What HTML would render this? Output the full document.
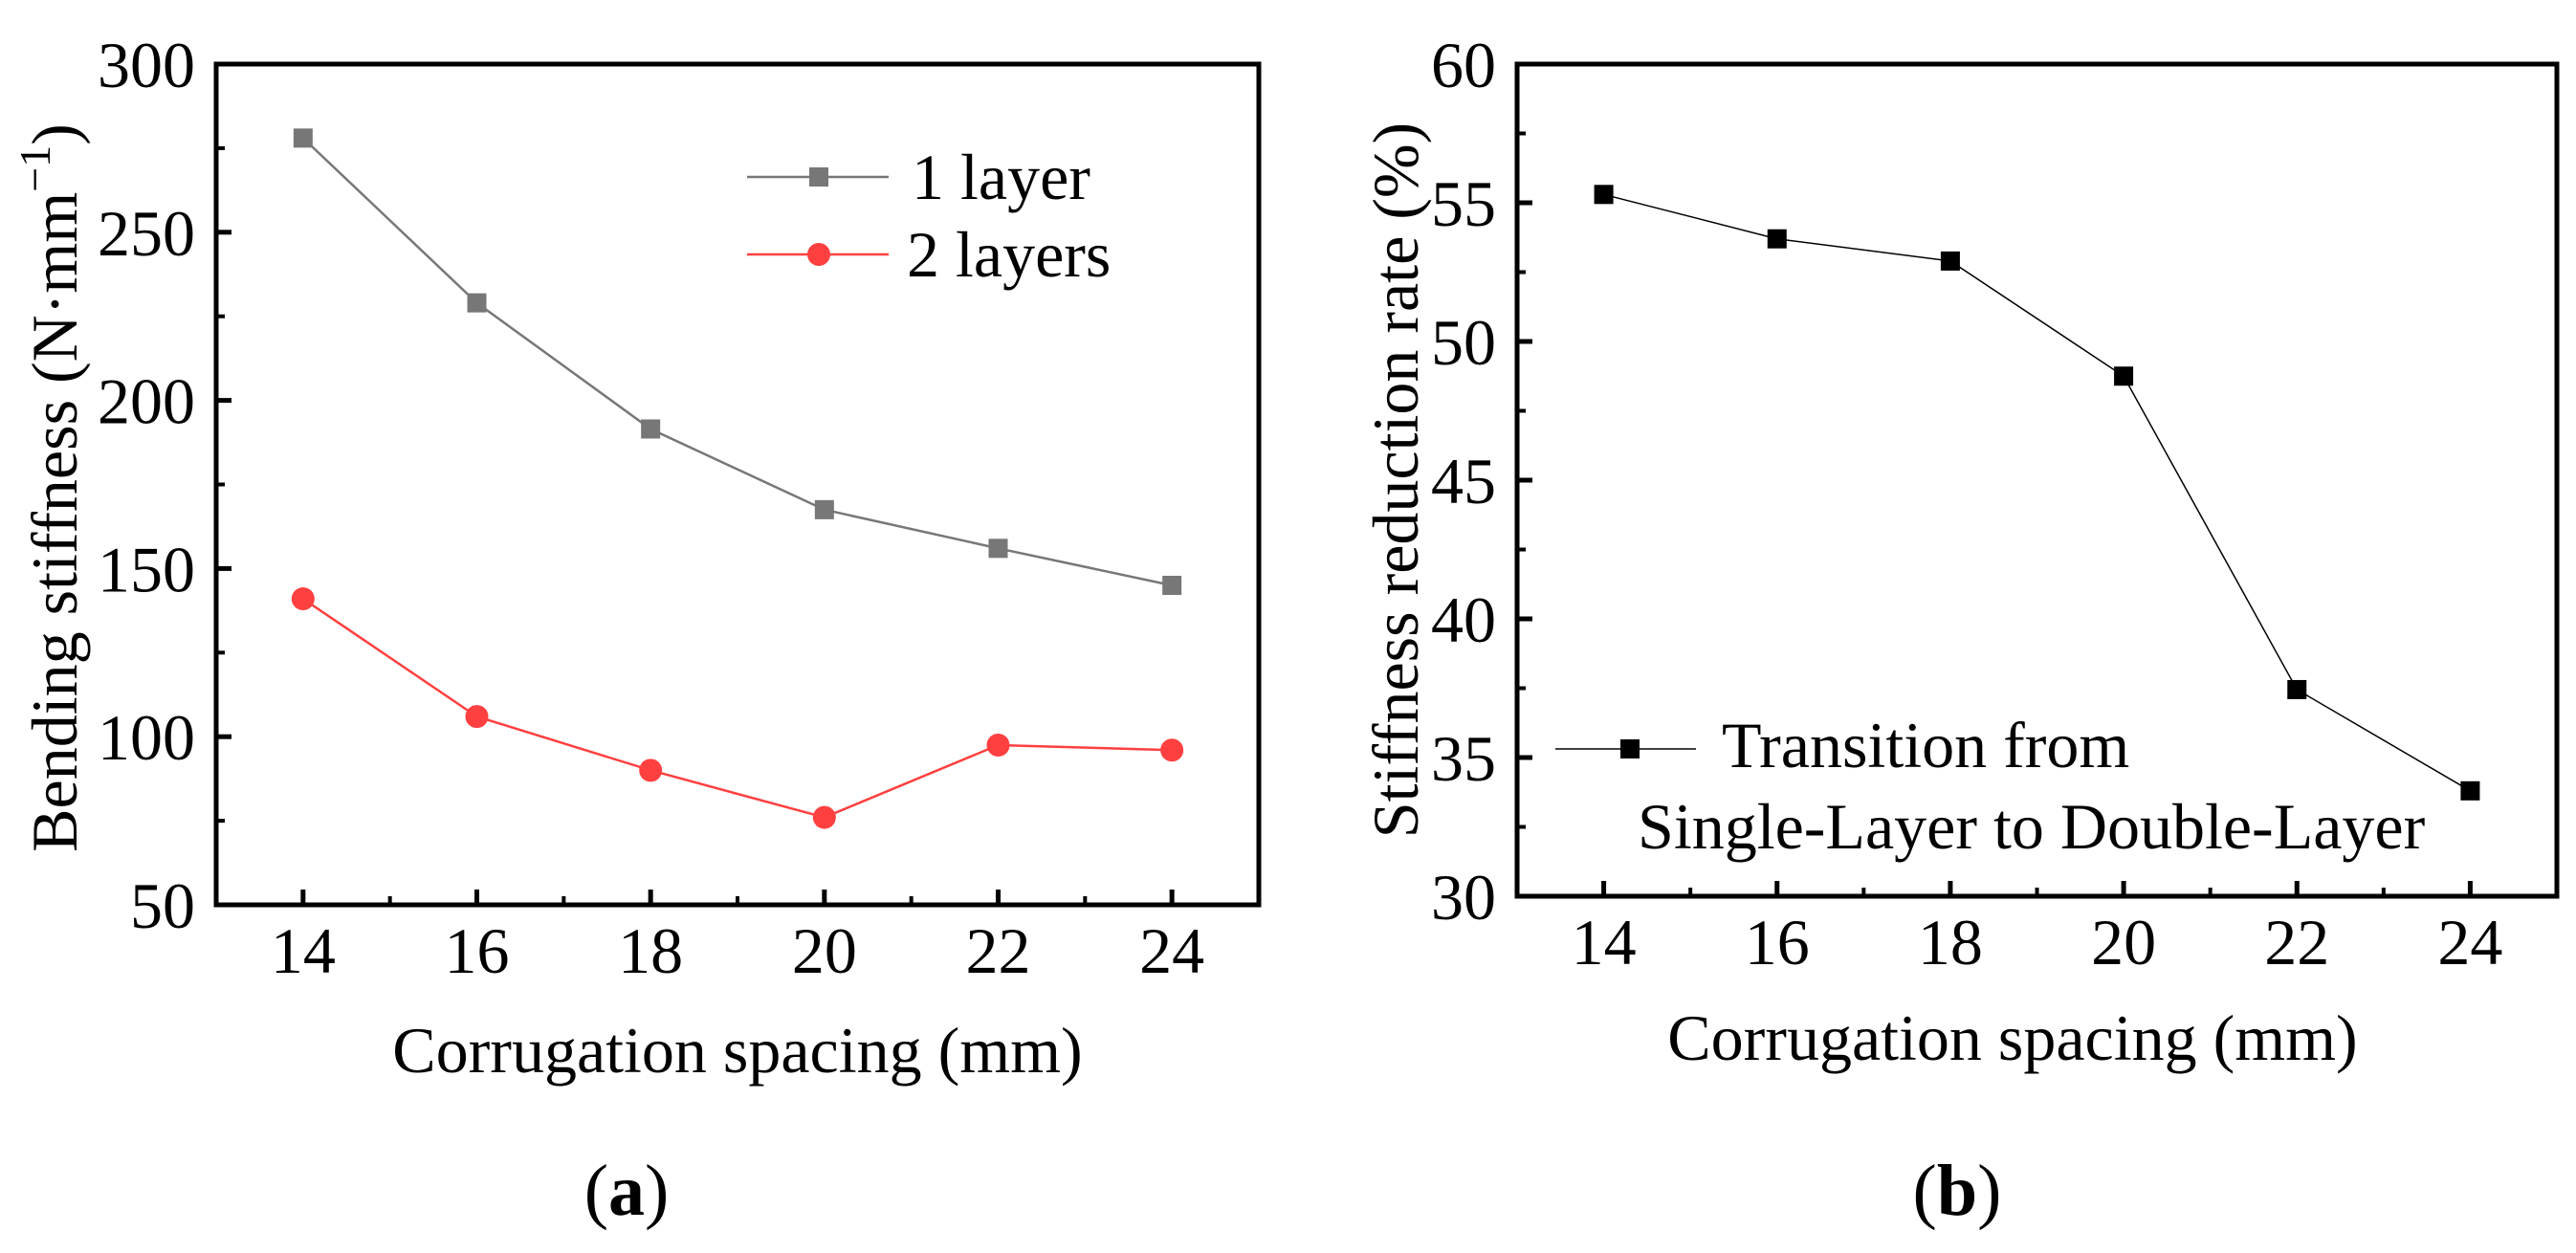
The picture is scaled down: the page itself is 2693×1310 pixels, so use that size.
<!DOCTYPE html>
<html><head><meta charset="utf-8"><style>
html,body{margin:0;padding:0;background:#fff}
svg, svg text{font-family:"Liberation Serif","Times New Roman","DejaVu Serif",serif}
</style></head><body>
<svg id="c" width="2693" height="1305" viewBox="0 0 2693 1305" xmlns="http://www.w3.org/2000/svg" font-family="Liberation Serif, Times New Roman, DejaVu Serif, serif">
<g id="ga"></g>
<g id="gb"></g>
</svg>
<script>
const categories=[14,16,18,20,22,24];
const oneLayer=[278,229,191.5,167.5,156,145];
const twoLayers=[141,106,90,76,97.5,96];
const reductionRate=[55.3,53.7,52.9,48.75,37.45,33.8];
const yTicksA=[50,100,150,200,250,300];
const yTicksB=[30,35,40,45,50,55,60];
const xTicks=[14,16,18,20,22,24];
const NS="http://www.w3.org/2000/svg";
const FF="Liberation Serif, Times New Roman, DejaVu Serif, serif";
function mk(parent,tag,attrs,txt){const e=document.createElementNS(NS,tag);for(const k in attrs)e.setAttribute(k,attrs[k]);if(tag==='text')e.setAttribute('font-family',FF);if(txt!==undefined)e.textContent=txt;parent.appendChild(e);return e;}
function panel(g,box,ymin,ymax,yticks,yminor){
  const X=v=>box.l+(v-13)/(25-13)*(box.r-box.l);
  const Y=v=>box.b-(v-ymin)/(ymax-ymin)*(box.b-box.t);
  xTicks.forEach(v=>{const t=mk(g,'line',{x1:X(v),x2:X(v),y1:box.b,y2:box.b-16,stroke:'#000','stroke-width':5});
    
    
    const l=mk(g,'text',{x:X(v),y:box.b+71,'font-size':68,'text-anchor':'middle'},String(v));
    
    
    const m=mk(g,'line',{x1:X(v+1),x2:X(v+1),y1:box.b,y2:box.b-9,stroke:'#000','stroke-width':4});
    
    });
  yticks.forEach((v,i)=>{const t=mk(g,'line',{x1:box.l,x2:box.l+16,y1:Y(v),y2:Y(v),stroke:'#000','stroke-width':5});
    
    
    const l=mk(g,'text',{x:box.l-22,y:Y(v)+24,'font-size':68,'text-anchor':'end'},String(v));
    
    
    if(i<yticks.length-1){const m=mk(g,'line',{x1:box.l,x2:box.l+9,y1:Y(v+yminor),y2:Y(v+yminor),stroke:'#000','stroke-width':4});
    
    }});
  const r=mk(g,'rect',{x:box.l,y:box.t,width:box.r-box.l,height:box.b-box.t,fill:'none',stroke:'#000','stroke-width':5});
  
  
  return {X,Y};
}
function series(g,s,vals,color,shape,name,lw){
  const pts=categories.map((c,i)=>s.X(c)+','+s.Y(vals[i])).join(' ');
  const pl=mk(g,'polyline',{points:pts,fill:'none',stroke:color,'stroke-width':lw});
  
  
  categories.forEach((c,i)=>{let m;
    if(shape==='sq')m=mk(g,'rect',{x:s.X(c)-10,y:s.Y(vals[i])-10,width:20,height:20,fill:color});
    else m=mk(g,'circle',{cx:s.X(c),cy:s.Y(vals[i]),r:12,fill:color});
    
    });
}
const ga=document.getElementById('ga');
const sa=panel(ga,{l:226,r:1316,t:67,b:946},50,300,yTicksA,25);
series(ga,sa,oneLayer,'#777777','sq','one-layer',2.5);
series(ga,sa,twoLayers,'#ff4040','ci','two-layers',2.5);
let e=mk(ga,'line',{x1:781,x2:929,y1:185,y2:185,stroke:'#777777','stroke-width':2.5});


e=mk(ga,'rect',{x:846,y:175,width:20,height:20,fill:'#777777'});


e=mk(ga,'text',{x:953,y:208,'font-size':68},'1 layer');


e=mk(ga,'line',{x1:781,x2:929,y1:266,y2:266,stroke:'#ff4040','stroke-width':2.5});


e=mk(ga,'circle',{cx:856,cy:266,r:12,fill:'#ff4040'});


e=mk(ga,'text',{x:948,y:289,'font-size':68},'2 layers');


e=mk(ga,'text',{transform:'translate(80,510) rotate(-90)','font-size':68,'text-anchor':'middle'});
e.innerHTML='Bending stiffness (N·mm<tspan dy="-28" font-size="46">−1</tspan><tspan dy="28">)</tspan>';


e=mk(ga,'text',{x:771,y:1121,'font-size':68,'text-anchor':'middle'},'Corrugation spacing (mm)');


e=mk(ga,'text',{x:655,y:1270,'font-size':76,'text-anchor':'middle'});
e.innerHTML='(<tspan font-weight="bold">a</tspan>)';


const gb=document.getElementById('gb');
const sb=panel(gb,{l:1586,r:2673,t:67,b:937},30,60,yTicksB,2.5);
series(gb,sb,reductionRate,'#000000','sq','reduction-rate',1.5);
e=mk(gb,'line',{x1:1626,x2:1773,y1:783,y2:783,stroke:'#000','stroke-width':1.5});


e=mk(gb,'rect',{x:1694,y:773,width:20,height:20,fill:'#000'});


e=mk(gb,'text',{x:1800,y:802,'font-size':68},'Transition from');


e=mk(gb,'text',{x:1712,y:887,'font-size':68},'Single-Layer to Double-Layer');


e=mk(gb,'text',{transform:'translate(1482,502) rotate(-90)','font-size':68,'text-anchor':'middle'},'Stiffness reduction rate (%)');


e=mk(gb,'text',{x:2104,y:1108,'font-size':68,'text-anchor':'middle'},'Corrugation spacing (mm)');


e=mk(gb,'text',{x:2046,y:1270,'font-size':76,'text-anchor':'middle'});
e.innerHTML='(<tspan font-weight="bold">b</tspan>)';


</script>
</body></html>
